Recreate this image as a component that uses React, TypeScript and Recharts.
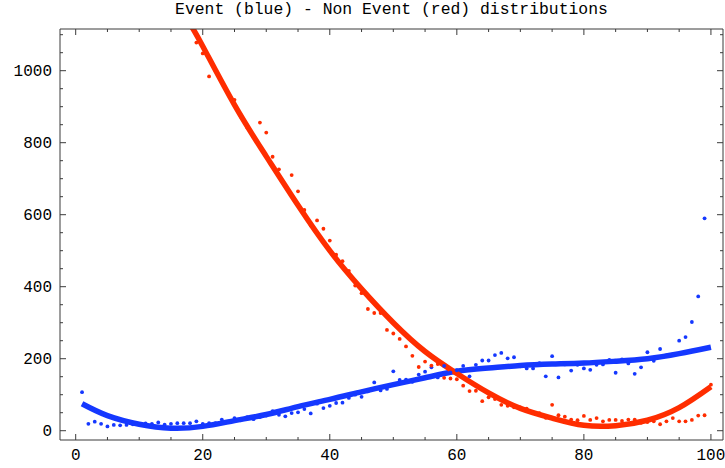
import React from 'react';
import { ComposedChart, Scatter, Line, XAxis, YAxis } from 'recharts';

const FRAME = '#3a3a3a';
const BLUE = '#1538ff';
const RED = '#ff2d00';
const FONT = '"Liberation Mono", "Courier New", monospace';

// event counts, one per bin starting at blueStart
const blueStart = 1;
const blueCounts = [
  107, 19, 25, 19, 12, 16, 15, 16, 18, 19,
  20, 19, 23, 17, 19, 21, 21, 21, 26, 19,
  21, 21, 31, 25, 35, 29, 38, 32, 38, 42,
  54, 44, 40, 49, 51, 60, 48, 75, 63, 69,
  77, 78, 91, 100, 94, 109, 134, 112, 116, 165,
  141, 142, 136, 156, 164, 176, 148, 180, 162, 168,
  180, 151, 183, 195, 195, 210, 216, 201, 204, 179,
  173, 173, 188, 151, 207, 148, 184, 167, 183, 173,
  169, 183, 184, 197, 161, 198, 187, 158, 176, 218,
  194, 227, 209, 212, 250, 260, 302, 373, 590,
];

// non-event counts, bins below redStart are off the top of the plot
const redStart = 19;
const redCounts = [
  1078, 1048, 984, 1000, 970, 938, 919, 872, 842, 815,
  856, 828, 761, 726, 681, 710, 665, 613, 570, 584,
  561, 528, 489, 471, 444, 403, 382, 338, 327, 327,
  280, 270, 255, 234, 208, 177, 192, 181, 185, 147,
  145, 143, 125, 110, 111, 82, 93, 88, 72, 69,
  65, 65, 61, 51, 49, 36, 72, 43, 39, 31,
  29, 41, 30, 35, 26, 30, 30, 27, 31, 31,
  22, 24, 26, 18, 26, 35, 26, 26, 30, 42,
  43, 128,
];

// fitted curves
const blueFitX = [1, 5, 10, 15, 20, 25, 30, 35, 40, 45, 50, 55, 60, 65, 70, 75, 80, 85, 90, 95, 100];
const blueFitY = [75, 42, 18, 7, 12, 28, 45, 67, 87, 108, 128, 147, 165, 174, 181, 185, 188, 193, 200, 214, 232];
const redFitX = [18, 20, 25, 30, 35, 40, 45, 50, 55, 60, 65, 70, 75, 80, 85, 90, 95, 100];
const redFitY = [1130, 1068, 905, 762, 626, 500, 394, 300, 220, 159, 105, 62, 35, 15, 14, 29, 64, 122];

const xTicks = [0, 5, 10, 15, 20, 25, 30, 35, 40, 45, 50, 55, 60, 65, 70, 75, 80, 85, 90, 95, 100];
const yTicks = [0, 50, 100, 150, 200, 250, 300, 350, 400, 450, 500, 550, 600, 650, 700, 750, 800, 850, 900, 950, 1000, 1050, 1100];

const X_DOMAIN: [number, number] = [-2.47, 101.9];
const Y_DOMAIN: [number, number] = [-25.8, 1115.8];

const bluePoints = blueCounts.map((y, i) => ({ x: blueStart + i, y }));
const redPoints = redCounts.map((y, i) => ({ x: redStart + i, y }));
const blueFit = blueFitX.map((x, i) => ({ x, y: blueFitY[i] }));
const redFit = redFitX.map((x, i) => ({ x, y: redFitY[i] }));

const isMajorX = (v: number) => v % 20 === 0;
const isMajorY = (v: number) => v % 200 === 0;

const BottomTick = ({ x, y, payload }: any) => {
  const major = isMajorX(payload.value);
  return (
    <g>
      <line x1={x} x2={x} y1={y} y2={y - (major ? 6 : 3)} stroke={FRAME} />
      {major && (
        <text x={x} y={y + 20} textAnchor="middle" fontFamily={FONT} fontSize={16} fill="#000">
          {payload.value}
        </text>
      )}
    </g>
  );
};

const TopTick = ({ x, y, payload }: any) => (
  <line x1={x} x2={x} y1={y} y2={y + (isMajorX(payload.value) ? 6 : 3)} stroke={FRAME} />
);

const LeftTick = ({ x, y, payload }: any) => {
  const major = isMajorY(payload.value);
  return (
    <g>
      <line x1={x} x2={x + (major ? 6 : 3)} y1={y} y2={y} stroke={FRAME} />
      {major && (
        <text x={x - 8} y={y + 5} textAnchor="end" fontFamily={FONT} fontSize={16} fill="#000">
          {payload.value}
        </text>
      )}
    </g>
  );
};

const RightTick = ({ x, y, payload }: any) => (
  <line x1={x} x2={x - (isMajorY(payload.value) ? 6 : 3)} y1={y} y2={y} stroke={FRAME} />
);

const dot = (color: string) => (p: any) => <circle cx={p.cx} cy={p.cy} r={1.9} fill={color} />;

export default function App() {
  return (
    <div style={{ position: 'absolute', left: 0, top: 0, width: 725, height: 468, background: '#fff' }}>
      <div
        style={{
          position: 'absolute',
          left: 60,
          top: 1,
          width: 663,
          textAlign: 'center',
          fontFamily: FONT,
          fontSize: 16.4,
          lineHeight: '18px',
          color: '#000',
        }}
      >
        Event (blue) - Non Event (red) distributions
      </div>
      <ComposedChart width={725} height={468} margin={{ top: 0, right: 0, bottom: 0, left: 0 }}>
        <XAxis
          dataKey="x"
          type="number"
          domain={X_DOMAIN}
          allowDataOverflow
          ticks={xTicks}
          interval={0}
          tickSize={0}
          tickMargin={0}
          height={28}
          axisLine={{ stroke: FRAME }}
          tickLine={false}
          tick={BottomTick}
        />
        <XAxis
          xAxisId="top"
          orientation="top"
          dataKey="x"
          type="number"
          domain={X_DOMAIN}
          allowDataOverflow
          ticks={xTicks}
          interval={0}
          tickSize={0}
          tickMargin={0}
          height={29}
          axisLine={{ stroke: FRAME }}
          tickLine={false}
          tick={TopTick}
        />
        <YAxis
          type="number"
          domain={Y_DOMAIN}
          allowDataOverflow
          ticks={yTicks}
          interval={0}
          tickSize={0}
          tickMargin={0}
          width={60}
          axisLine={{ stroke: FRAME }}
          tickLine={false}
          tick={LeftTick}
        />
        <YAxis
          yAxisId="right"
          orientation="right"
          type="number"
          domain={Y_DOMAIN}
          allowDataOverflow
          ticks={yTicks}
          interval={0}
          tickSize={0}
          tickMargin={0}
          width={2}
          axisLine={{ stroke: FRAME }}
          tickLine={false}
          tick={RightTick}
        />
        <Scatter data={bluePoints} dataKey="y" fill={BLUE} shape={dot(BLUE)} isAnimationActive={false} />
        <Scatter data={redPoints} dataKey="y" fill={RED} shape={dot(RED)} isAnimationActive={false} />
        <Line
          data={blueFit}
          dataKey="y"
          type="natural"
          stroke={BLUE}
          strokeWidth={5.5}
          dot={false}
          activeDot={false}
          isAnimationActive={false}
        />
        <Line
          data={redFit}
          dataKey="y"
          type="natural"
          stroke={RED}
          strokeWidth={5.5}
          dot={false}
          activeDot={false}
          isAnimationActive={false}
        />
      </ComposedChart>
    </div>
  );
}
